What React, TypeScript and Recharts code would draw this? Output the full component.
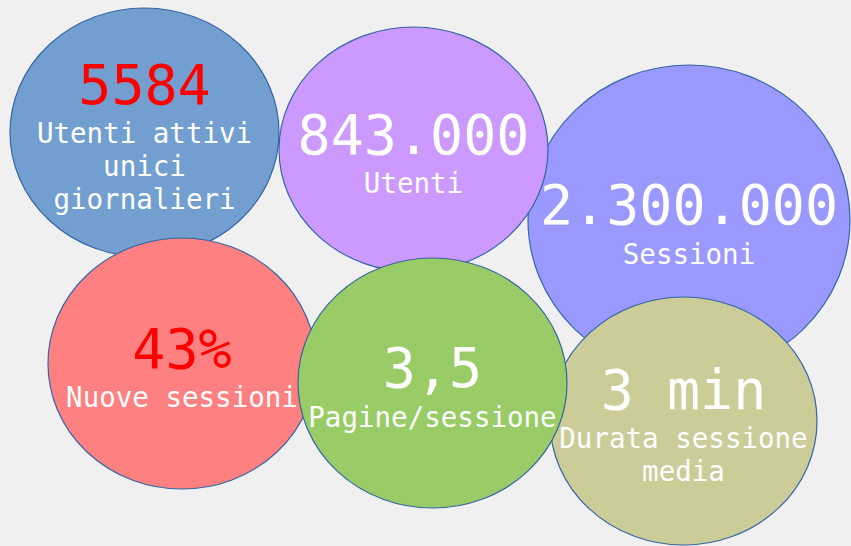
import React from 'react';
import { ScatterChart, Scatter, XAxis, YAxis } from 'recharts';

const W = 851;
const H = 546;

// drawn back to front
const metrics = ['2.300.000', '5584', '843.000', '43%', '3 min', '3,5'];
const labels = [
  ['Sessioni'],
  ['Utenti attivi', 'unici', 'giornalieri'],
  ['Utenti'],
  ['Nuove sessioni'],
  ['Durata sessione', 'media'],
  ['Pagine/sessione'],
];
const centerX = [689, 144.5, 413.5, 182, 683.5, 432.5];
const centerY = [220, 132.5, 149.5, 363.5, 421, 383];
const radiusX = [161, 134.5, 134.5, 134, 133.5, 134.5];
const radiusY = [155, 124.5, 122.5, 125.5, 124, 125];

const fills = ['#9999ff', '#729fcf', '#cc99ff', '#ff8080', '#cccc99', '#99cc66'];
const metricColors = ['#ffffff', '#ff0000', '#ffffff', '#ff0000', '#ffffff', '#ffffff'];

const data = metrics.map((m, i) => ({
  x: centerX[i],
  y: centerY[i],
  rx: radiusX[i],
  ry: radiusY[i],
  metric: m,
  lines: labels[i],
  fill: fills[i],
  color: metricColors[i],
}));

const FONT = '"DejaVu Sans Mono", monospace';
const LINE = 33;

const Bubble = (props: any) => {
  const { cx, cy, payload } = props;
  // axis domains equal the pixel size, so one unit is one pixel
  const kx = W / W;
  const ky = H / H;
  return (
    <ellipse
      cx={cx}
      cy={cy}
      rx={payload.rx * kx}
      ry={payload.ry * ky}
      fill={payload.fill}
      stroke="#3465a4"
      strokeWidth={1.2}
    />
  );
};

const BubbleText = (props: any) => {
  const { cx, cy, payload } = props;
  const n = payload.lines.length;
  const top = cy + 4 - ((n - 1) * LINE) / 2;
  return (
    <g fontFamily={FONT} textAnchor="middle">
      <text x={cx} y={top} fontSize={55} fill={payload.color}>
        {payload.metric}
      </text>
      {payload.lines.map((l: string, j: number) => (
        <text key={j} x={cx} y={top + 39.5 + j * LINE} fontSize={27.5} fill="#ffffff">
          {l}
        </text>
      ))}
    </g>
  );
};

export default function App() {
  return (
    <div style={{ position: 'fixed', left: 0, top: 0, width: W, height: H, background: '#f0f0f0' }}>
      <ScatterChart width={W} height={H} margin={{ top: 0, right: 0, bottom: 0, left: 0 }}>
        <XAxis type="number" dataKey="x" domain={[0, W]} hide />
        <YAxis type="number" dataKey="y" domain={[0, H]} reversed hide />
        <Scatter data={data} shape={<Bubble />} isAnimationActive={false} />
        <Scatter data={data} shape={<BubbleText />} isAnimationActive={false} />
      </ScatterChart>
    </div>
  );
}
